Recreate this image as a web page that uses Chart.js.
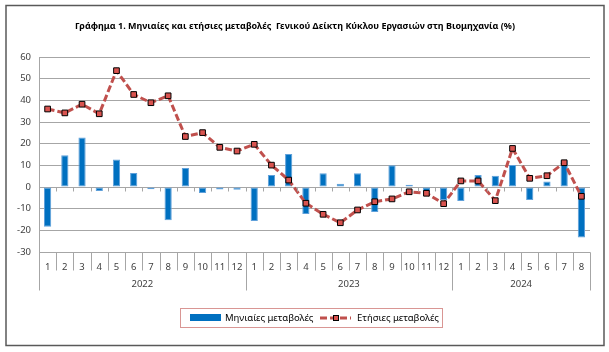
<!DOCTYPE html>
<html>
<head>
<meta charset="utf-8">
<script src="https://cdn.jsdelivr.net/npm/chart.js@4.4.1/dist/chart.umd.min.js"></script>
<style>
  html, body { margin: 0; padding: 0; background: #fff; }
  #wrap { width: 609px; height: 352px; }
</style>
</head>
<body>
<div id="wrap"><canvas id="chart" width="609" height="352"></canvas></div>
<script>
// Δεδομένα
const monthLabels = ['1','2','3','4','5','6','7','8','9','10','11','12',
                     '1','2','3','4','5','6','7','8','9','10','11','12',
                     '1','2','3','4','5','6','7','8'];
const yearLabels = ['2022', '2023', '2024'];
const yearCounts = [12, 12, 8];
const monthlyChange = [-18.3, 14.7, 22.9, -1.8, 12.7, 6.5, -1.0, -15.3, 8.8, -2.8, -1.2, -1.3,
                       -15.7, 5.5, 15.2, -12.5, 6.3, 1.5, 6.3, -11.5, 10.0, 1.0, -2.5, -6.0,
                       -6.5, 5.5, 5.2, 10.2, -6.0, 2.5, 12.2, -23.3];
const annualChange = [36.0, 34.2, 38.2, 33.8, 53.7, 42.7, 38.9, 42.1, 23.3, 25.1, 18.3, 16.6,
                      19.7, 10.1, 3.2, -7.5, -12.6, -16.5, -10.6, -6.8, -5.5, -2.2, -2.9, -7.7,
                      2.8, 2.8, -6.3, 17.8, 4.0, 5.2, 11.2, -4.3];
const yTicks = { min: -30, max: 60, step: 10 };

const titleText = 'Γράφημα 1. Μηνιαίες και ετήσιες μεταβολές  Γενικού Δείκτη Κύκλου Εργασιών στη Βιομηχανία (%)';
const seriesNames = ['Μηνιαίες μεταβολές', 'Ετήσιες μεταβολές'];

const BAR_COLOR = '#0070C0';
const LINE_COLOR = '#C0504D';
const GRID_COLOR = '#A6A6A6';
const FONT = '"Noto Sans", "DejaVu Sans", sans-serif';

// Πλαίσιο, τίτλος, άξονας κατηγοριών και υπόμνημα
const decorPlugin = {
    id: 'decor',
    afterDraw(chart) {
        const ctx = chart.ctx;
        const area = chart.chartArea;
        const xs = chart.scales.x;
        const ys = chart.scales.y;
        const half = (xs.getPixelForValue(1) - xs.getPixelForValue(0)) / 2;
        const edge = i => Math.round(xs.getPixelForValue(i) - half) + 0.5;
        const y0 = Math.round(ys.getPixelForValue(0)) + 0.5;
        const bottom = Math.round(area.bottom) + 0.5;

        ctx.save();
        // εξωτερικό πλαίσιο
        ctx.strokeStyle = '#595959';
        ctx.lineWidth = 1.5;
        ctx.strokeRect(6, 5.5, 598, 340);

        // τίτλος
        ctx.fillStyle = '#000';
        ctx.font = 'bold 9px ' + FONT;
        ctx.textAlign = 'center';
        ctx.textBaseline = 'middle';
        ctx.fillText(titleText, 295, 26);

        ctx.strokeStyle = GRID_COLOR;
        ctx.lineWidth = 1;
        ctx.beginPath();
        // μικρές υποδιαιρέσεις στο μηδέν
        for (let i = 1; i < monthLabels.length; i++) {
            ctx.moveTo(edge(i), y0);
            ctx.lineTo(edge(i), y0 + 4);
        }
        // διαχωριστικά μηνών
        for (let i = 0; i <= monthLabels.length; i++) {
            ctx.moveTo(edge(i), bottom);
            ctx.lineTo(edge(i), bottom + 18);
        }
        // διαχωριστικά ετών
        let start = 0;
        ctx.moveTo(edge(0), bottom);
        ctx.lineTo(edge(0), bottom + 38);
        yearCounts.forEach(c => {
            start += c;
            ctx.moveTo(edge(start), bottom);
            ctx.lineTo(edge(start), bottom + 38);
        });
        ctx.stroke();

        // ετικέτες ετών
        ctx.fillStyle = '#404040';
        ctx.font = '9.5px ' + FONT;
        start = 0;
        yearLabels.forEach((yr, k) => {
            const a = xs.getPixelForValue(start);
            const b = xs.getPixelForValue(start + yearCounts[k] - 1);
            ctx.fillText(yr, (a + b) / 2, bottom + 32);
            start += yearCounts[k];
        });

        // υπόμνημα
        ctx.strokeStyle = '#D99694';
        ctx.strokeRect(180.5, 308.5, 262, 19);
        ctx.fillStyle = BAR_COLOR;
        ctx.fillRect(190, 314, 31, 7);
        ctx.fillStyle = '#000';
        ctx.font = '9.5px ' + FONT;
        ctx.textAlign = 'left';
        ctx.fillText(seriesNames[0], 225, 318);
        ctx.strokeStyle = LINE_COLOR;
        ctx.lineWidth = 3;
        ctx.setLineDash([7, 3]);
        ctx.beginPath();
        ctx.moveTo(320, 318);
        ctx.lineTo(351, 318);
        ctx.stroke();
        ctx.setLineDash([]);
        ctx.fillStyle = '#D9534F';
        ctx.fillRect(333, 315, 6, 6);
        ctx.strokeStyle = '#000';
        ctx.lineWidth = 1;
        ctx.strokeRect(333.5, 315.5, 5, 5);
        ctx.fillStyle = '#000';
        ctx.fillText(seriesNames[1], 357, 318);
        ctx.restore();
    }
};

new Chart(document.getElementById('chart').getContext('2d'), {
    type: 'bar',
    data: {
        labels: monthLabels,
        datasets: [{
            type: 'line',
            label: seriesNames[1],
            data: annualChange,
            borderColor: LINE_COLOR,
            borderWidth: 3,
            borderDash: [7, 3],
            tension: 0,
            pointStyle: 'rect',
            pointRadius: 4,
            pointBackgroundColor: '#D9534F',
            pointBorderColor: '#000',
            pointBorderWidth: 1,
            order: 1
        }, {
            label: seriesNames[0],
            data: monthlyChange,
            backgroundColor: BAR_COLOR,
            borderColor: '#5FA0DA',
            borderWidth: 1,
            borderSkipped: false,
            categoryPercentage: 1,
            barPercentage: 0.42,
            order: 2
        }]
    },
    options: {
        responsive: false,
        animation: false,
        layout: { padding: { left: 6, right: 19, top: 57, bottom: 60 } },
        plugins: {
            legend: { display: false },
            tooltip: { enabled: false }
        },
        scales: {
            x: {
                offset: true,
                grid: { display: false },
                border: { display: false },
                ticks: { color: '#404040', font: { family: FONT, size: 9.5 }, padding: 2, maxRotation: 0, autoSkip: false },
                afterFit: s => { s.height = 40; }
            },
            y: {
                min: yTicks.min,
                max: yTicks.max,
                ticks: { stepSize: yTicks.step, color: '#404040', font: { family: FONT, size: 9.5 }, padding: 8 },
                grid: { color: GRID_COLOR, drawTicks: false },
                border: { display: true, color: GRID_COLOR },
                afterFit: s => { s.width = 33; }
            }
        }
    },
    plugins: [decorPlugin]
});
</script>
</body>
</html>
